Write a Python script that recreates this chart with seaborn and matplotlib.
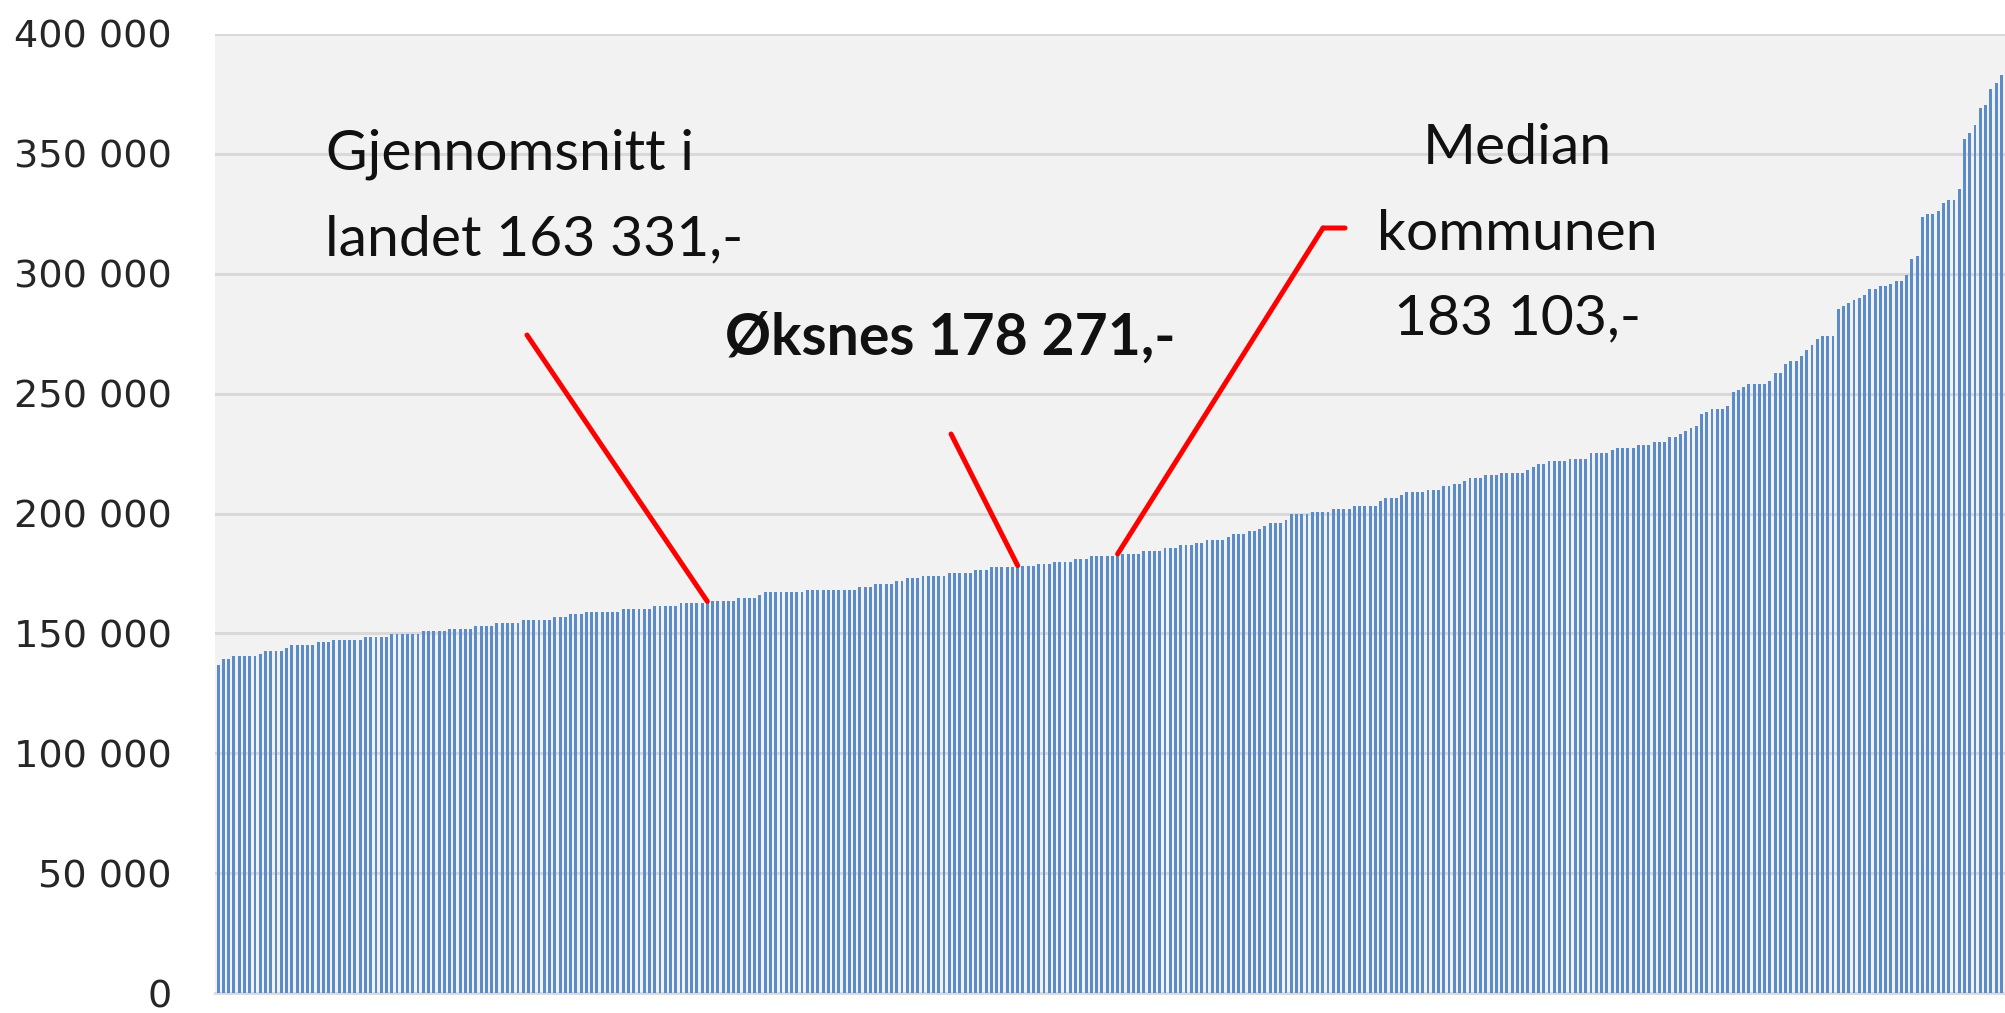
import matplotlib
matplotlib.use("Agg")
import matplotlib.pyplot as plt
import seaborn as sns
import pandas as pd

# Cost per inhabitant for each municipality, sorted ascending (NOK)
values = [
    137000, 139300, 139300, 140400, 140400, 140400, 140400, 140400, 141500, 142800,
    142800, 142800, 142800, 143900, 145000, 145000, 145000, 145000, 145000, 146300,
    146300, 146300, 147400, 147400, 147400, 147400, 147400, 147400, 148500, 148500,
    148500, 148500, 148500, 149700, 149700, 149700, 149700, 149700, 149700, 150800,
    150800, 150800, 150800, 150800, 151900, 151900, 151900, 151900, 151900, 153200,
    153200, 153200, 153200, 154300, 154300, 154300, 154300, 154300, 155500, 155500,
    155500, 155500, 155500, 155500, 156800, 156800, 156800, 157900, 157900, 157900,
    159000, 159000, 159000, 159000, 159000, 159000, 159000, 160100, 160100, 160100,
    160100, 160100, 160100, 161300, 161300, 161300, 161300, 161300, 162500, 162500,
    162500, 162500, 162500, 163331, 163600, 163600, 163600, 163600, 163600, 164900,
    164900, 164900, 164900, 166000, 167100, 167100, 167100, 167100, 167100, 167100,
    167100, 167100, 168300, 168300, 168300, 168300, 168300, 168300, 168300, 168300,
    168300, 168300, 169400, 169400, 169400, 170700, 170700, 170700, 170700, 171800,
    171800, 172900, 172900, 172900, 174000, 174000, 174000, 174000, 174000, 175300,
    175300, 175300, 175300, 175300, 176400, 176400, 176400, 177500, 177500, 177500,
    177500, 177500, 178271, 178300, 178300, 178300, 178800, 178800, 178800, 179900,
    179900, 179900, 179900, 181100, 181100, 181100, 182200, 182200, 182200, 182200,
    182200, 183103, 183200, 183200, 183200, 183200, 184400, 184400, 184400, 184400,
    185500, 185500, 185500, 186700, 186700, 186700, 187900, 187900, 189000, 189000,
    189000, 189000, 190100, 191400, 191400, 191400, 192500, 192500, 193600, 194700,
    196000, 196000, 196000, 197100, 199600, 199600, 199600, 199600, 200700, 200700,
    200700, 200700, 201800, 201800, 201800, 201800, 203000, 203000, 203000, 203000,
    203000, 205300, 206500, 206500, 206500, 207600, 208800, 208800, 208800, 208800,
    210000, 210000, 210000, 211300, 211300, 212400, 212400, 213600, 214700, 214700,
    214700, 216000, 216000, 216000, 217100, 217100, 217100, 217100, 217100, 218200,
    219400, 220500, 220500, 221700, 221700, 221700, 221700, 222800, 222800, 222800,
    222800, 225100, 225100, 225100, 225100, 226300, 227500, 227500, 227500, 227500,
    228600, 228600, 228600, 229700, 229700, 229700, 232100, 232100, 233300, 234400,
    235500, 236700, 241400, 242500, 243700, 243700, 243700, 244700, 250500, 251700,
    252900, 254000, 254000, 254000, 254000, 255300, 258800, 258800, 262200, 263500,
    263500, 265700, 268000, 270400, 272600, 273900, 273900, 273900, 285400, 286500,
    287600, 288900, 290000, 291300, 293500, 293500, 294700, 294700, 295800, 297100,
    297100, 299300, 306300, 307400, 323800, 324900, 324900, 326000, 329400, 330700,
    330700, 335400, 356400, 358800, 362100, 369000, 370300, 377200, 379600, 382900,
]
ranks = list(range(1, len(values) + 1))

ytick_values = [0, 50000, 100000, 150000, 200000, 250000, 300000, 350000, 400000]
ytick_labels = ["0", "50 000", "100 000", "150 000", "200 000",
                "250 000", "300 000", "350 000", "400 000"]

# Highlighted municipalities: label lines and rank position index
mean_label = ["Gjennomsnitt i", "landet 163 331,-"]
mean_idx = 93
oksnes_label = "Øksnes 178 271,-"
oksnes_idx = 152
median_label = ["Median", "kommunen", "183 103,-"]
median_idx = 171

sns.set_style("white")
plt.rcParams["font.family"] = ["DejaVu Sans"]

fig = plt.figure(figsize=(20.05, 10.13), dpi=100)
ax = fig.add_axes([215 / 2005, 20 / 1013, 1790 / 2005, 959 / 1013])
ax.set_facecolor("#F2F2F2")

df = pd.DataFrame({"rank": ranks, "value": values})
sns.barplot(data=df, x="rank", y="value", color="#5B8BC8", saturation=1,
            width=0.55, linewidth=0, ax=ax, zorder=3)

ax.set_ylim(0, 400000)
ax.set_xlim(-0.6, 339.7)
ax.set_yticks(ytick_values, ytick_labels)
ax.set_xticks([])
ax.set_xlabel("")
ax.set_ylabel("")
ax.tick_params(axis="y", length=0, pad=31, labelsize=27.5, labelcolor="#262626")
ax.yaxis.grid(True, color="#D9D9D9", linewidth=2.2, zorder=0)
ax.set_axisbelow(True)
for side in ["top", "right", "left"]:
    ax.spines[side].set_visible(False)
ax.spines["bottom"].set_color("#D9D9D9")
ax.spines["bottom"].set_linewidth(2)

text_kw = dict(transform=ax.transAxes, fontsize=41, family=["Lato", "DejaVu Sans"],
               color="#111111", va="baseline", ha="center")
ax.text(0.1648, 0.8582, mean_label[0], **text_kw)
ax.text(0.1782, 0.7696, mean_label[1], **text_kw)
ax.text(0.4106, 0.6653, oksnes_label, fontweight="bold", **text_kw)
for line, y in zip(median_label, [0.8644, 0.7748, 0.6872]):
    ax.text(0.7274, y, line, **text_kw)

line_kw = dict(arrowstyle="-", color="#FF0000", lw=3.6, shrinkA=0, shrinkB=0)
ax.annotate("", xy=(mean_idx, values[mean_idx]), xycoords="data",
            xytext=(0.1743, 0.6861), textcoords="axes fraction", arrowprops=line_kw)
ax.annotate("", xy=(oksnes_idx, values[oksnes_idx]), xycoords="data",
            xytext=(0.4112, 0.5829), textcoords="axes fraction", arrowprops=line_kw)
ax.annotate("", xy=(median_idx, values[median_idx]), xycoords="data",
            xytext=(0.6190, 0.7977), textcoords="axes fraction", arrowprops=line_kw)
ax.annotate("", xy=(0.6313, 0.7977), xycoords="axes fraction",
            xytext=(0.6190, 0.7977), textcoords="axes fraction", arrowprops=line_kw)

fig.savefig("out.png", dpi=100)
